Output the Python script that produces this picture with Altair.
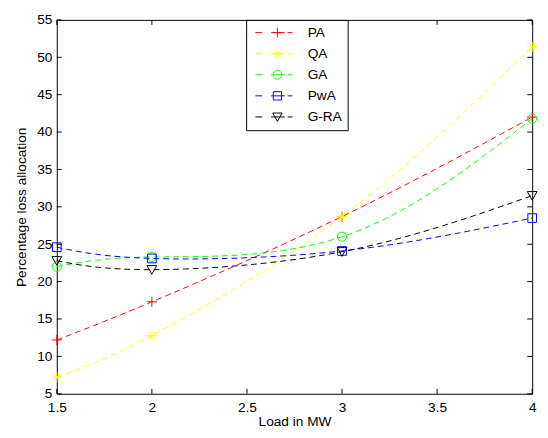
import altair as alt
import pandas as pd

# ---- data ----
load_mw = [1.5, 2, 3, 4]
series = ["PA", "QA", "GA", "PwA", "G-RA"]
pa = [12.2, 17.3, 28.7, 42.0]
qa = [7.2, 12.8, 28.7, 51.4]
ga = [22.0, 23.3, 26.0, 41.8]
pwa = [24.6, 23.1, 24.1, 28.5]
gra = [22.8, 21.6, 24.0, 31.5]
colors = ["#ff0000", "#ffff00", "#00ff00", "#0000ff", "#000000"]
x_ticks = [1.5, 2, 2.5, 3, 3.5, 4]
y_ticks = [5, 10, 15, 20, 25, 30, 35, 40, 45, 50, 55]

# marker glyphs (unit coordinates)
plus = "M-1,0L1,0M0,-1L0,1"
aster = "M-1,0L1,0M0,-1L0,1M-0.7,-0.7L0.7,0.7M-0.7,0.7L0.7,-0.7"
circ = "M0.9,0A0.9,0.9 0 1,1 -0.9,0A0.9,0.9 0 1,1 0.9,0Z"
sq = "M-0.85,-0.85L0.85,-0.85L0.85,0.85L-0.85,0.85Z"
tri = "M-0.95,-0.8L0.95,-0.8L0,0.9Z"
markers = [plus, aster, circ, sq, tri]
dash = "M-4.5,0L-3.1,0M-1.3,0L1.5,0M2.1,0L3.1,0"
legend_syms = [dash + m for m in markers]

rows = []
for name, vals in zip(series, [pa, qa, ga, pwa, gra]):
    for xv, yv in zip(load_mw, vals):
        rows.append({"load": xv, "pct": yv, "series": name})
df = pd.DataFrame(rows)
df_x = pd.DataFrame({"load": x_ticks})
df_y = pd.DataFrame({"pct": y_ticks})

W, H = 487, 383
FONT = "Liberation Sans"
FS = 14

xs = alt.Scale(domain=[1.5, 4], nice=False, zero=False)
ys = alt.Scale(domain=[5, 55], nice=False, zero=False)
cs = alt.Scale(domain=series, range=colors)

x_axis = alt.Axis(
    title="Load in MW", values=x_ticks, format="~g", ticks=False, domain=False,
    grid=False, labelFlush=False, labelOverlap=False, labelPadding=7, titlePadding=1)
y_axis = alt.Axis(
    title="Percentage loss allocation", values=y_ticks, format="d", ticks=False,
    domain=False, grid=False, labelPadding=5, titlePadding=9)
x_enc = alt.X("load:Q", scale=xs, axis=x_axis)
y_enc = alt.Y("pct:Q", scale=ys, axis=y_axis)

lines = alt.Chart(df).mark_line(strokeDash=[6, 4], strokeWidth=1, interpolate="natural").encode(
    x=x_enc, y=y_enc,
    color=alt.Color("series:N", scale=cs, legend=None),
    order="load:Q",
)

points = alt.Chart(df).mark_point(filled=False, size=110, strokeWidth=1, opacity=1).encode(
    x=x_enc, y=y_enc,
    color=alt.Color("series:N", scale=cs, legend=None),
    shape=alt.Shape("series:N", scale=alt.Scale(domain=series, range=markers), legend=None),
)

leg = alt.Legend(title=None, orient="none", legendX=194, legendY=0, padding=6,
                 symbolOffset=19, labelOffset=24, rowPadding=7.6,
                 strokeColor="black", fillColor="white", labelFont=FONT,
                 labelFontSize=FS, labelColor="black", symbolStrokeWidth=1,
                 symbolSize=100, cornerRadius=0)
legend_layer = alt.Chart(df).transform_filter("false").mark_point(
    filled=False, size=100, strokeWidth=1, opacity=1).encode(
    x=x_enc, y=y_enc,
    shape=alt.Shape("series:N", scale=alt.Scale(domain=series, range=legend_syms), legend=leg),
    color=alt.Color("series:N", scale=alt.Scale(domain=series, range=colors), legend=leg),
)

tl = alt.Chart(df_y).mark_rule(color="black", strokeWidth=1).encode(
    y=y_enc, x=alt.value(0), x2=alt.value(5))
tr = alt.Chart(df_y).mark_rule(color="black", strokeWidth=1).encode(
    y=y_enc, x=alt.value(W - 5), x2=alt.value(W))
tb = alt.Chart(df_x).mark_rule(color="black", strokeWidth=1).encode(
    x=x_enc, y=alt.value(H - 5), y2=alt.value(H))
tt = alt.Chart(df_x).mark_rule(color="black", strokeWidth=1).encode(
    x=x_enc, y=alt.value(0), y2=alt.value(5))

chart = alt.layer(lines, points, tl, tr, tb, tt, legend_layer).resolve_scale(
    shape="independent", color="independent"
).properties(
    width=W, height=H, padding={"left": 6, "top": 0, "right": 0, "bottom": 0},
    background="white",
).configure_view(stroke="black", strokeWidth=1).configure_axis(
    labelFont=FONT, titleFont=FONT, labelFontSize=FS, titleFontSize=FS,
    labelColor="black", titleColor="black", titleFontWeight="normal",
)

chart.save("out.html", embed_options={"renderer": "svg", "actions": False})
